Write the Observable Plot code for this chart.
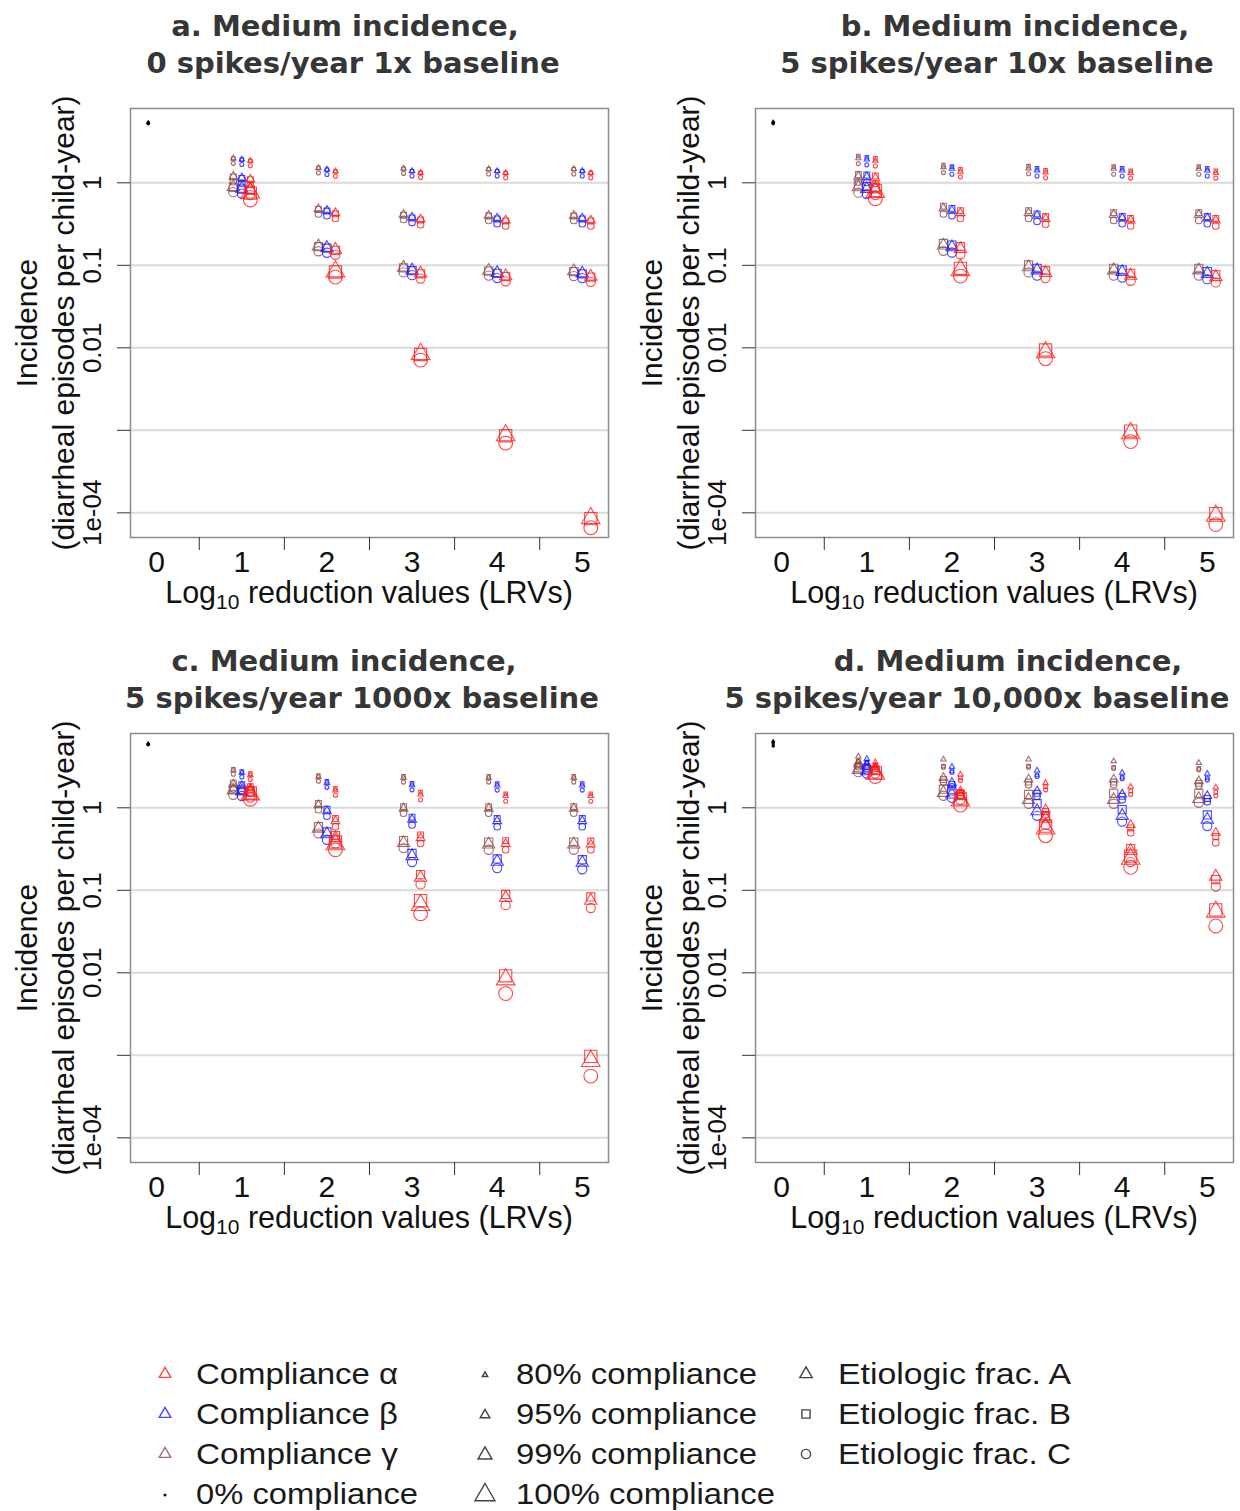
<!DOCTYPE html>
<html>
<head>
<meta charset="utf-8">
<script src="https://cdn.jsdelivr.net/npm/d3@7"></script>
<script src="https://cdn.jsdelivr.net/npm/@observablehq/plot@0.6"></script>
<style>
  body { margin: 0; background: #fff; }
  #root { position: relative; width: 1240px; height: 1511px; overflow: hidden; background: #fff; }
  #root svg { position: absolute; }
</style>
</head>
<body>
<div id="root"></div>
<script>
// ---------------- DATA ----------------
const lrvs = [1, 2, 3, 4, 5];
const seriesCompliance = ["α", "α", "α", "α", "β", "β", "β", "γ", "γ", "γ"];
const seriesLevel      = [80, 95, 99, 100, 80, 95, 99, 80, 95, 99];
const etiologies = ["A", "B", "C"];

const titleLine1 = ["a. Medium incidence,", "b. Medium incidence,", "c. Medium incidence,", "d. Medium incidence,"];
const titleLine2 = ["0 spikes/year 1x baseline", "5 spikes/year 10x baseline", "5 spikes/year 1000x baseline", "5 spikes/year 10,000x baseline"];

// 0% compliance (LRV 0) per panel a..d, per etiologic fraction
const zeroFracA = [5.4, 5.5, 6.0, 6.4];
const zeroFracB = [5.3, 5.35, 5.9, 6.0];
const zeroFracC = [5.2, 5.2, 5.8, 5.6];

// rows: α80, α95, α99, α100, β80, β95, β99, γ80, γ95, γ99 ; columns: LRV 1..5
const aFracA = [
  [1.85, 1.38, 1.33, 1.32, 1.32],
  [1.10, 0.43, 0.36, 0.35, 0.35],
  [0.82, 0.155, 0.080, 0.074, 0.073],
  [0.76, 0.084, 0.0084, 0.00087, 0.000086],
  [1.92, 1.45, 1.39, 1.39, 1.39],
  [1.14, 0.46, 0.38, 0.37, 0.37],
  [0.85, 0.163, 0.087, 0.081, 0.080],
  [1.98, 1.52, 1.49, 1.47, 1.47],
  [1.19, 0.48, 0.41, 0.40, 0.40],
  [0.89, 0.170, 0.094, 0.086, 0.085]
];
const aFracB = [
  [1.84, 1.37, 1.32, 1.31, 1.31],
  [1.09, 0.42, 0.355, 0.345, 0.345],
  [0.81, 0.152, 0.079, 0.073, 0.072],
  [0.75, 0.083, 0.0083, 0.00086, 0.000085],
  [1.91, 1.44, 1.38, 1.38, 1.38],
  [1.13, 0.455, 0.375, 0.365, 0.365],
  [0.84, 0.161, 0.086, 0.080, 0.079],
  [1.97, 1.51, 1.48, 1.46, 1.46],
  [1.18, 0.475, 0.405, 0.395, 0.395],
  [0.88, 0.168, 0.093, 0.085, 0.084]
];
const aFracC = [
  [1.61, 1.20, 1.16, 1.15, 1.15],
  [0.95, 0.37, 0.31, 0.30, 0.30],
  [0.71, 0.134, 0.069, 0.064, 0.063],
  [0.62, 0.072, 0.0071, 0.00070, 0.000066],
  [1.67, 1.26, 1.21, 1.21, 1.21],
  [0.99, 0.40, 0.33, 0.32, 0.32],
  [0.74, 0.142, 0.076, 0.070, 0.070],
  [1.72, 1.32, 1.30, 1.28, 1.28],
  [1.03, 0.42, 0.36, 0.35, 0.35],
  [0.77, 0.148, 0.082, 0.075, 0.074]
];

const bFracA = [
  [1.86, 1.37, 1.34, 1.32, 1.32],
  [1.14, 0.43, 0.366, 0.35, 0.35],
  [0.83, 0.158, 0.081, 0.075, 0.072],
  [0.77, 0.087, 0.0088, 0.00092, 0.000092],
  [1.92, 1.48, 1.41, 1.41, 1.41],
  [1.17, 0.46, 0.40, 0.37, 0.37],
  [0.845, 0.166, 0.087, 0.083, 0.079],
  [1.99, 1.55, 1.50, 1.48, 1.48],
  [1.19, 0.49, 0.43, 0.41, 0.41],
  [0.885, 0.174, 0.095, 0.087, 0.087]
];
const bFracB = [
  [1.98, 1.46, 1.42, 1.40, 1.40],
  [1.21, 0.46, 0.39, 0.37, 0.37],
  [0.88, 0.168, 0.086, 0.080, 0.077],
  [0.81, 0.092, 0.0094, 0.00098, 0.000098],
  [2.04, 1.57, 1.50, 1.50, 1.50],
  [1.24, 0.49, 0.42, 0.39, 0.39],
  [0.90, 0.176, 0.092, 0.088, 0.084],
  [2.11, 1.64, 1.59, 1.57, 1.57],
  [1.26, 0.52, 0.46, 0.435, 0.435],
  [0.94, 0.184, 0.101, 0.092, 0.092]
];
const bFracC = [
  [1.60, 1.18, 1.15, 1.14, 1.14],
  [0.98, 0.37, 0.315, 0.30, 0.30],
  [0.71, 0.136, 0.070, 0.065, 0.062],
  [0.64, 0.074, 0.0074, 0.00073, 0.000072],
  [1.65, 1.27, 1.21, 1.21, 1.21],
  [1.01, 0.40, 0.34, 0.32, 0.32],
  [0.73, 0.143, 0.075, 0.071, 0.068],
  [1.71, 1.33, 1.29, 1.27, 1.27],
  [1.02, 0.42, 0.37, 0.35, 0.35],
  [0.76, 0.150, 0.082, 0.075, 0.075]
];

const cFracA = [
  [2.49, 1.63, 1.45, 1.39, 1.39],
  [1.72, 0.69, 0.43, 0.366, 0.36],
  [1.52, 0.43, 0.142, 0.081, 0.075],
  [1.45, 0.36, 0.066, 0.0083, 0.00085],
  [2.65, 2.01, 1.88, 1.87, 1.87],
  [1.83, 0.91, 0.72, 0.69, 0.69],
  [1.58, 0.48, 0.26, 0.222, 0.216],
  [2.84, 2.36, 2.31, 2.31, 2.31],
  [1.92, 1.08, 0.98, 0.98, 0.98],
  [1.63, 0.56, 0.376, 0.36, 0.36]
];
const cFracB = [
  [2.60, 1.72, 1.55, 1.48, 1.48],
  [1.80, 0.74, 0.47, 0.40, 0.395],
  [1.59, 0.46, 0.155, 0.089, 0.083],
  [1.51, 0.385, 0.075, 0.0092, 0.00097],
  [2.75, 2.10, 1.98, 1.97, 1.97],
  [1.90, 0.96, 0.77, 0.74, 0.74],
  [1.64, 0.51, 0.28, 0.24, 0.235],
  [2.93, 2.45, 2.41, 2.41, 2.41],
  [1.99, 1.13, 1.03, 1.03, 1.03],
  [1.69, 0.59, 0.40, 0.385, 0.385]
];
const cFracC = [
  [2.20, 1.42, 1.25, 1.20, 1.20],
  [1.50, 0.59, 0.37, 0.31, 0.31],
  [1.33, 0.37, 0.118, 0.066, 0.061],
  [1.27, 0.31, 0.052, 0.0056, 0.00056],
  [2.36, 1.77, 1.65, 1.64, 1.64],
  [1.61, 0.79, 0.62, 0.59, 0.59],
  [1.39, 0.41, 0.22, 0.186, 0.18],
  [2.55, 2.10, 2.05, 2.05, 2.05],
  [1.70, 0.95, 0.86, 0.86, 0.86],
  [1.44, 0.49, 0.325, 0.31, 0.31]
];

const dFracA = [
  [3.57, 2.54, 2.01, 1.80, 1.77],
  [3.11, 1.59, 0.96, 0.62, 0.50],
  [2.78, 1.39, 0.74, 0.30, 0.147],
  [2.58, 1.22, 0.56, 0.24, 0.055],
  [3.92, 3.15, 2.84, 2.66, 2.59],
  [3.26, 2.01, 1.59, 1.45, 1.39],
  [2.78, 1.45, 0.91, 0.80, 0.72],
  [4.19, 3.86, 3.86, 3.68, 3.51],
  [3.41, 2.31, 2.21, 2.21, 2.11],
  [2.89, 1.52, 1.25, 1.25, 1.28]
];
const dFracB = [
  [3.30, 2.30, 1.80, 1.60, 1.55],
  [3.00, 1.52, 0.90, 0.57, 0.45],
  [2.85, 1.45, 0.80, 0.32, 0.135],
  [2.65, 1.28, 0.60, 0.26, 0.058],
  [3.55, 2.80, 2.50, 2.35, 2.30],
  [3.15, 1.92, 1.50, 1.38, 1.30],
  [2.95, 1.60, 1.12, 0.95, 0.82],
  [3.70, 3.20, 3.20, 3.10, 3.00],
  [3.30, 2.20, 2.05, 2.05, 1.98],
  [3.05, 1.68, 1.45, 1.50, 1.50]
];
const dFracC = [
  [3.20, 2.15, 1.65, 1.45, 1.40],
  [2.85, 1.40, 0.82, 0.50, 0.376],
  [2.60, 1.25, 0.62, 0.22, 0.111],
  [2.40, 1.08, 0.46, 0.19, 0.037],
  [3.50, 2.70, 2.40, 2.25, 2.18],
  [3.00, 1.80, 1.38, 1.25, 1.18],
  [2.60, 1.32, 0.80, 0.68, 0.60],
  [3.65, 3.10, 3.10, 3.00, 2.90],
  [3.15, 2.05, 1.90, 1.90, 1.85],
  [2.70, 1.40, 1.12, 1.12, 1.15]
];

const yTickValues = [1e-4, 1e-3, 1e-2, 1e-1, 1];
const yTickLabels = ["1e-04", "", "0.01", "0.1", "1"];
const xTickValues = [0, 1, 2, 3, 4, 5];
const xTickLabels = ["0", "1", "2", "3", "4", "5"];
const xBreakTicks = [0.5, 1.5, 2.5, 3.5, 4.5];

const legendCol1 = ["Compliance α", "Compliance β", "Compliance γ", "0% compliance"];
const legendCol2 = ["80% compliance", "95% compliance", "99% compliance", "100% compliance"];
const legendCol3 = ["Etiologic frac. A", "Etiologic frac. B", "Etiologic frac. C"];

// ---------------- STYLE ----------------
const fracA = [aFracA, bFracA, cFracA, dFracA];
const fracB = [aFracB, bFracB, cFracB, dFracB];
const fracC = [aFracC, bFracC, cFracC, dFracC];
const zeroFrac = {A: zeroFracA, B: zeroFracB, C: zeroFracC};
const fracMats = {A: fracA, B: fracB, C: fracC};

const colorOf = {"α": "#ff1a1a", "β": "#1a1aff", "γ": "#8c4c4c"};
const dxOf = {"α": 8.5, "β": 0, "γ": -8.5};
const sizeOf = {80: 2.0, 95: 3.3, 99: 4.6, 100: 6.9};
const symbolOf = {A: "triangle", B: "square", C: "circle"};
const AXIS_FONT = "'Liberation Sans', Arial, Helvetica, sans-serif";
const TITLE_FONT = "'DejaVu Sans', sans-serif";

const panelPos = [[0, 0], [625, 0], [0, 625], [625, 625]];
const titleDx = [[-24.5, -16.5], [20.5, 2.5], [-25.5, -7.5], [13.5, -17.5]];
const titleDy = [[-73, -36], [-73, -36], [-63, -26], [-63, -26]];

function buildRows(p) {
  const rows = [];
  for (const et of etiologies) {
    rows.push({lrv: 0, value: zeroFrac[et][p], compliance: "0", level: 0, etiology: et});
    fracMats[et][p].forEach((vals, s) => {
      vals.forEach((v, j) => rows.push({
        lrv: lrvs[j], value: v, compliance: seriesCompliance[s], level: seriesLevel[s], etiology: et
      }));
    });
  }
  return rows;
}

const root = document.getElementById("root");

for (let p = 0; p < 4; p++) {
  const rows = buildRows(p);
  const dotMarks = [];
  for (const comp of ["γ", "β", "α"]) {
    for (const level of [80, 95, 99, 100]) {
      for (const et of etiologies) {
        const data = rows.filter(d => d.compliance === comp && d.level === level && d.etiology === et);
        if (!data.length) continue;
        dotMarks.push(Plot.dot(data, {
          x: "lrv", y: "value", r: sizeOf[level], symbol: symbolOf[et],
          stroke: colorOf[comp], strokeOpacity: 0.8, strokeWidth: 1.1, fill: "none", dx: dxOf[comp]
        }));
      }
    }
  }
  for (const et of etiologies) {
    dotMarks.push(Plot.dot(rows.filter(d => d.level === 0 && d.etiology === et), {
      x: "lrv", y: "value", r: 1.3, symbol: symbolOf[et], stroke: "#000", fill: "#000", strokeWidth: 0.8, dx: -8.5
    }));
  }

  const svg = Plot.plot({
    width: 625, height: 625,
    marginLeft: 130, marginRight: 17, marginTop: 108, marginBottom: 88,
    x: {domain: [-0.308, 5.308], axis: null, label: null},
    y: {type: "log", domain: [Math.pow(10, -4.299), Math.pow(10, 0.9006)], axis: null, label: null},
    style: {fontFamily: AXIS_FONT, background: "transparent", overflow: "visible"},
    marks: [
      Plot.ruleY(yTickValues, {stroke: "#dadada", strokeWidth: 2}),
      Plot.frame({stroke: "#8c8c8c", strokeWidth: 1.5}),
      Plot.axisY({ticks: yTickValues, tickFormat: d => yTickLabels[yTickValues.indexOf(d)], label: null,
        tickSize: 13, tickPadding: 17, tickRotate: -90, fontSize: 26, stroke: "#333", fill: "#111"}),
      Plot.axisX({ticks: xTickValues, tickFormat: d => xTickLabels[xTickValues.indexOf(d)], label: null,
        tickSize: 0, tickPadding: 13, fontSize: 30, fill: "#111"}),
      Plot.axisX({ticks: xBreakTicks, tickFormat: () => "", label: null, tickSize: 13, stroke: "#333"}),
      Plot.text(["Incidence\n(diarrheal episodes per child-year)"], {
        frameAnchor: "left", dx: -86.5, rotate: -90, fontSize: 30, lineHeight: 1.233,
        textAnchor: "middle", lineAnchor: "middle", fill: "#111"
      }),
      Plot.text([titleLine1[p]], {frameAnchor: "top", dx: titleDx[p][0], dy: titleDy[p][0],
        lineAnchor: "bottom", textAnchor: "middle", fontSize: 29, fontWeight: "bold",
        fontFamily: TITLE_FONT, fill: "#363636"}),
      Plot.text([titleLine2[p]], {frameAnchor: "top", dx: titleDx[p][1], dy: titleDy[p][1],
        lineAnchor: "bottom", textAnchor: "middle", fontSize: 29, fontWeight: "bold",
        fontFamily: TITLE_FONT, fill: "#363636"}),
      ...dotMarks
    ]
  });

  // x-axis title with subscript
  const t = d3.select(svg).append("text")
    .attr("x", 369).attr("y", 603).attr("text-anchor", "middle")
    .attr("font-size", 30.5).attr("font-family", AXIS_FONT).attr("fill", "#111");
  t.append("tspan").text("Log");
  t.append("tspan").attr("font-size", 21).attr("dy", 6).text("10");
  t.append("tspan").attr("dy", -6).text(" reduction values (LRVs)");

  svg.style.left = panelPos[p][0] + "px";
  svg.style.top = panelPos[p][1] + "px";
  root.appendChild(svg);
}

// ---------------- LEGEND ----------------
const lg = d3.select(root).append("svg")
  .attr("width", 1240).attr("height", 171)
  .style("left", "0px").style("top", "1340px")
  .attr("font-family", AXIS_FONT);

const rowCenter = [33, 73, 113, 153];
const sym = (type, r) => d3.symbol().type(type).size(Math.PI * r * r)();

const col1Colors = [colorOf["α"], colorOf["β"], colorOf["γ"]];
legendCol1.forEach((label, i) => {
  if (i < 3) {
    lg.append("path").attr("d", sym(d3.symbolTriangle, 4.3))
      .attr("transform", `translate(165,${rowCenter[i] + 1})`)
      .attr("fill", "none").attr("stroke", col1Colors[i]).attr("stroke-opacity", 0.8).attr("stroke-width", 1.4);
  } else {
    lg.append("circle").attr("cx", 165).attr("cy", rowCenter[i] + 2).attr("r", 1.5).attr("fill", "#111");
  }
  lg.append("text").attr("x", 196).attr("y", rowCenter[i] + 11).attr("font-size", 30).attr("fill", "#1a1a1a")
    .attr("textLength", i < 3 ? 202 : 222).attr("lengthAdjust", "spacingAndGlyphs").text(label);
});
const col2Sizes = [2.0, 3.6, 5.2, 7.4];
legendCol2.forEach((label, i) => {
  lg.append("path").attr("d", sym(d3.symbolTriangle, col2Sizes[i]))
    .attr("transform", `translate(485,${rowCenter[i] + 2})`)
    .attr("fill", "none").attr("stroke", "#444").attr("stroke-width", 1.4);
  lg.append("text").attr("x", 516).attr("y", rowCenter[i] + 11).attr("font-size", 30).attr("fill", "#1a1a1a")
    .attr("textLength", i < 3 ? 241 : 259).attr("lengthAdjust", "spacingAndGlyphs").text(label);
});
const col3Types = [d3.symbolTriangle, d3.symbolSquare, d3.symbolCircle];
legendCol3.forEach((label, i) => {
  lg.append("path").attr("d", sym(col3Types[i], 4.6))
    .attr("transform", `translate(806,${rowCenter[i] + 1})`)
    .attr("fill", "none").attr("stroke", "#444").attr("stroke-width", 1.4);
  lg.append("text").attr("x", 838).attr("y", rowCenter[i] + 11).attr("font-size", 30).attr("fill", "#1a1a1a")
    .attr("textLength", 233).attr("lengthAdjust", "spacingAndGlyphs").text(label);
});
</script>
</body>
</html>
